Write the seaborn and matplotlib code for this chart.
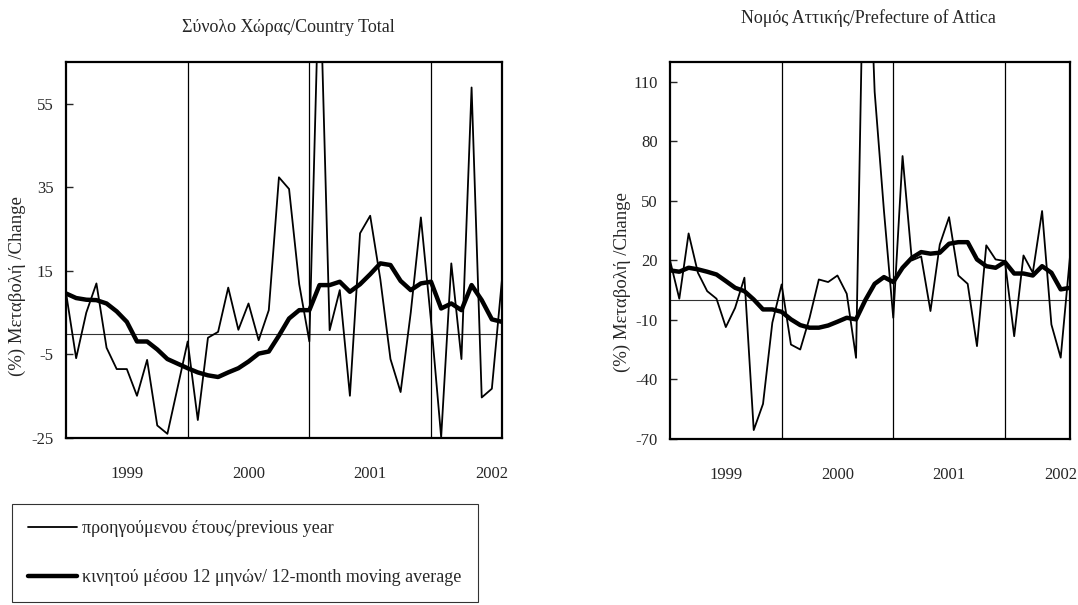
import matplotlib
matplotlib.use("Agg")
import matplotlib.pyplot as plt
import seaborn as sns
import pandas as pd

sns.set_style("white")
plt.rcParams['font.family'] = ['Liberation Serif', 'DejaVu Serif']
plt.rcParams['axes.unicode_minus'] = False

# monthly index, 44 months
months = list(range(44))
year_labels = ["1999", "2000", "2001", "2002"]
year_pos = [6, 18, 30, 42]
year_breaks = [12, 24, 36]

country_yoy = [9.8, -5.9, 5.0, 12.0, -3.4, -8.5, -8.5, -14.9, -6.3, -22.0,
               -24.0, -13.0, -1.9, -20.7, -1.0, 0.4, 11.0, 0.9, 7.2, -1.6,
               5.6, 37.4, 34.6, 11.8, -1.9, 90.0, 0.8, 10.4, -14.9, 24.0,
               28.2, 13.0, -6.1, -14.0, 5.0, 27.8, 3.0, -24.8, 16.8, -6.1,
               58.9, -15.3, -13.2, 13.0]
country_ma = [9.6, 8.5, 8.1, 8.0, 7.2, 5.3, 2.8, -1.9, -1.9, -3.8,
              -6.1, -7.2, -8.3, -9.3, -10.0, -10.4, -9.3, -8.3, -6.7, -4.8,
              -4.3, -0.5, 3.6, 5.6, 5.6, 11.6, 11.6, 12.4, 10.0, 11.8,
              14.2, 16.8, 16.4, 12.6, 10.4, 12.0, 12.4, 6.0, 7.2, 5.6,
              11.6, 8.0, 3.4, 2.8]
attica_yoy = [20.0, 0.7, 33.6, 13.8, 4.5, 0.7, -13.6, -3.9, 11.3, -65.5,
              -52.3, -11.4, 7.9, -22.4, -24.9, -9.0, 10.4, 9.1, 12.4, 3.2,
              -29.1, 230.0, 105.0, 45.0, -8.9, 72.6, 20.0, 22.0, -5.5, 28.0,
              41.8, 12.4, 8.2, -23.2, 27.6, 20.5, 19.7, -18.2, 22.5, 13.8,
              44.9, -12.3, -29.0, 22.0]
attica_ma = [15.0, 14.3, 16.3, 15.5, 14.3, 12.9, 9.6, 6.2, 4.5, 0.3,
             -4.7, -4.7, -5.9, -9.7, -12.6, -13.9, -13.9, -12.8, -10.9, -8.9,
             -9.7, 0.0, 8.2, 11.6, 9.1, 16.3, 21.3, 24.2, 23.4, 23.9,
             28.4, 29.2, 29.2, 20.5, 17.1, 16.3, 19.2, 13.4, 13.4, 12.4,
             17.1, 13.8, 5.4, 6.2]

yoy_label = "προηγούμενου έτους/previous year"
ma_label = "κινητού μέσου 12 μηνών/ 12-month moving average"
FS = 13      # titles, legend
FS_TICK = 12
FS_YLAB = 13.5

W, H = 1078, 605
fig = plt.figure(figsize=(W / 100, H / 100), dpi=100)


def panel(rect, yoy, ma, ylim, yticks):
    ax = fig.add_axes(rect)
    df = pd.DataFrame({"month": months, "yoy": yoy, "ma": ma})
    ax.axhline(0, color="#333333", lw=0.8, zorder=1)
    for b in year_breaks:
        ax.axvline(b, color="black", lw=0.9, zorder=1)
    sns.lineplot(data=df, x="month", y="yoy", ax=ax, color="black", lw=1.3, zorder=2)
    sns.lineplot(data=df, x="month", y="ma", ax=ax, color="black", lw=3.2, zorder=3)
    ax.set_xlim(0, 43)
    ax.set_ylim(*ylim)
    ax.set_yticks(yticks)
    ax.set_xticks(year_pos, year_labels)
    ax.tick_params(axis="x", length=0, pad=20, labelsize=FS_TICK)
    ax.tick_params(axis="y", direction="in", length=5, width=1, pad=9,
                   labelsize=FS_TICK, left=True)
    ax.set_xlabel("")
    ax.set_ylabel("")
    for s in ax.spines.values():
        s.set_color("black")
        s.set_linewidth(1.6)
    return ax


ax1 = panel([66 / W, 1 - 438 / H, 436 / W, 376 / H], country_yoy, country_ma,
            (-25, 65), [-25, -5, 15, 35, 55])
ax2 = panel([670 / W, 1 - 439 / H, 400 / W, 377 / H], attica_yoy, attica_ma,
            (-70, 120), [-70, -40, -10, 20, 50, 80, 110])

fig.text(288 / W, 1 - 27 / H, "Σύνολο Χώρας/Country Total",
         ha="center", va="center", fontsize=FS)
fig.text(868 / W, 1 - 18 / H, "Νομός Αττικής/Prefecture of Attica",
         ha="center", va="center", fontsize=FS)
fig.text(17 / W, 1 - 286 / H, "(%) Μεταβολή /Change", rotation=90,
         ha="center", va="center", fontsize=FS_YLAB)
fig.text(622 / W, 1 - 282 / H, "(%) Μεταβολή /Change", rotation=90,
         ha="center", va="center", fontsize=FS_YLAB)

lines = ax1.get_lines()
h_yoy = [l for l in lines if l.get_linewidth() == 1.3][0]
h_ma = [l for l in lines if l.get_linewidth() == 3.2][0]
leg = fig.legend([h_yoy, h_ma], [yoy_label, ma_label], loc="upper left",
                 bbox_to_anchor=(12 / W, 1 - 504 / H), fontsize=FS, frameon=True,
                 fancybox=False, handlelength=2.7, handletextpad=0.3,
                 labelspacing=1.75, borderpad=0.9, borderaxespad=0)
leg.get_frame().set_edgecolor("black")
leg.get_frame().set_linewidth(0.8)

fig.savefig("out.png", dpi=100, facecolor="white")
